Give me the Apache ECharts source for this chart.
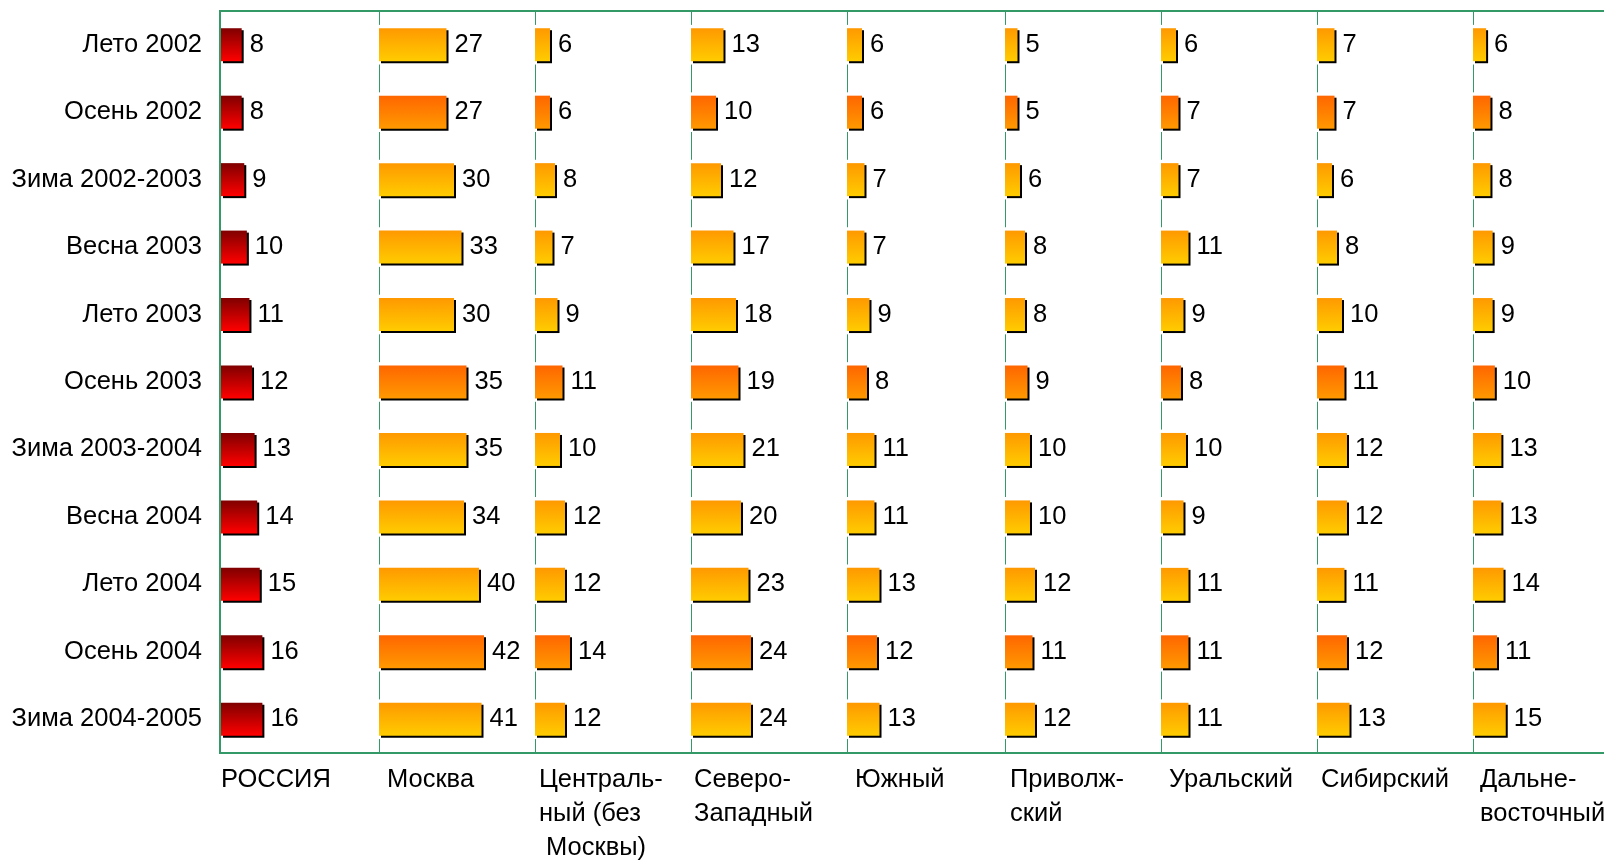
<!DOCTYPE html>
<html>
<head>
<meta charset="utf-8">
<title>chart</title>
<script src="https://cdn.jsdelivr.net/npm/echarts@6/dist/echarts.min.js"></script>
<style>
  html, body { margin: 0; padding: 0; background: #fff; }
  #chart { width: 1604px; height: 860px; }
</style>
</head>
<body>
<div id="chart"></div>
<script>
var seasons = ["Лето 2002", "Осень 2002", "Зима 2002-2003", "Весна 2003", "Лето 2003", "Осень 2003",
  "Зима 2003-2004", "Весна 2004", "Лето 2004", "Осень 2004", "Зима 2004-2005"];
var regions = ["РОССИЯ", "Москва", "Централь-\nный (без\n Москвы)", "Северо-\nЗападный", "Южный",
  "Приволж-\nский", "Уральский", "Сибирский", "Дальне-\nвосточный"];

var russia = [8, 8, 9, 10, 11, 12, 13, 14, 15, 16, 16];
var moscow = [27, 27, 30, 33, 30, 35, 35, 34, 40, 42, 41];
var central = [6, 6, 8, 7, 9, 11, 10, 12, 12, 14, 12];
var northWest = [13, 10, 12, 17, 18, 19, 21, 20, 23, 24, 24];
var south = [6, 6, 7, 7, 9, 8, 11, 11, 13, 12, 13];
var volga = [5, 5, 6, 8, 8, 9, 10, 10, 12, 11, 12];
var ural = [6, 7, 7, 11, 9, 8, 10, 9, 11, 11, 11];
var siberia = [7, 7, 6, 8, 10, 11, 12, 12, 11, 12, 13];
var farEast = [6, 8, 8, 9, 9, 10, 13, 13, 14, 11, 15];

var panels = [russia, moscow, central, northWest, south, volga, ural, siberia, farEast];

// layout of the panels (px)
var sepX = [220, 376, 532, 688, 844, 1002, 1158, 1314, 1470];
var nameDx = [1, 11, 7, 6, 11, 8, 11, 7, 10];
var top0 = 11, plotH = 742;
var green = "#339966";
var font = "Liberation Sans";
var fsize = 25.5;

var myChart = echarts.init(document.getElementById("chart"));

function grad(c1, c2) {
  return new echarts.graphic.LinearGradient(0, 0, 0, 1, [
    { offset: 0, color: c1 },
    { offset: 1, color: c2 }
  ]);
}

var grids = [], xAxes = [], yAxes = [], series = [], graphics = [];

// outer green frame
graphics.push({
  type: "rect",
  shape: { x: sepX[0], y: top0, width: 1500, height: plotH },
  style: { fill: "none", stroke: green, lineWidth: 2 },
  z: 10
});

panels.forEach(function (vals, i) {
  grids.push({
    left: i === 0 ? sepX[i] + 1 : sepX[i] + 3,
    top: top0,
    width: 150,
    height: plotH
  });
  xAxes.push({
    gridIndex: i,
    type: "value",
    min: 0,
    max: i === 0 ? 58 : 60,
    show: false
  });
  yAxes.push({
    gridIndex: i,
    type: "category",
    inverse: true,
    data: seasons,
    offset: i === 0 ? 0 : 3,
    axisTick: { show: false },
    axisLine: {
      show: i > 0,
      lineStyle: { color: green, width: 1, type: [27, 40.45], dashOffset: 13.5 }
    },
    axisLabel: {
      show: i === 0,
      color: "#000",
      fontSize: fsize,
      fontFamily: font,
      margin: 19
    }
  });
  series.push({
    type: "bar",
    xAxisIndex: i,
    yAxisIndex: i,
    barWidth: 33,
    data: vals.map(function (v, k) {
      var c;
      if (i === 0) c = grad("#800000", "#ff0000");
      else if (seasons[k].indexOf("Осень") === 0) c = grad("#ff6600", "#ff9900");
      else c = grad("#ff9900", "#ffcc00");
      return { value: v, itemStyle: { color: c } };
    }),
    itemStyle: {
      shadowColor: "#000",
      shadowOffsetX: 2,
      shadowOffsetY: 2,
      shadowBlur: 0
    },
    label: {
      show: true,
      position: "right",
      distance: 8,
      color: "#000",
      fontSize: fsize,
      fontFamily: font
    },
    animation: false
  });
  graphics.push({
    type: "text",
    style: {
      x: sepX[i] + nameDx[i],
      y: 763,
      text: regions[i],
      fill: "#000",
      fontSize: fsize,
      fontFamily: font,
      lineHeight: 34,
      align: "left",
      verticalAlign: "top"
    }
  });
});

var option = {
  backgroundColor: "#fff",
  animation: false,
  grid: grids,
  xAxis: xAxes,
  yAxis: yAxes,
  series: series,
  graphic: graphics
};
myChart.setOption(option);
</script>
</body>
</html>
